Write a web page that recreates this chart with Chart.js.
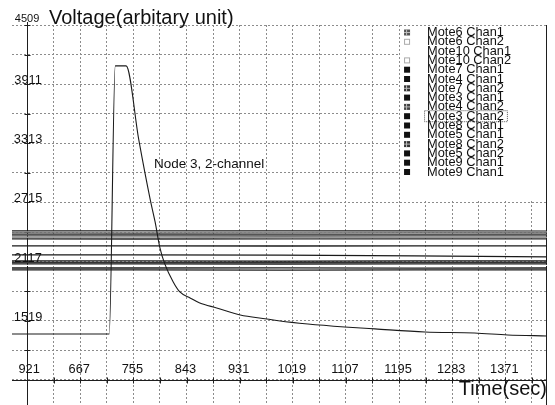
<!DOCTYPE html>
<html>
<head>
<meta charset="utf-8">
<script src="https://cdn.jsdelivr.net/npm/chart.js@4.4.1/dist/chart.umd.min.js"></script>
<style>
  html, body { margin: 0; padding: 0; background: #fff; }
  #wrap { width: 555px; height: 405px; position: relative; }
</style>
</head>
<body>
<div id="wrap"><canvas id="chart"></canvas></div>
<script>
// ── Axis grid & tick labels ──
const yGridValues  = [4509, 4210, 3911, 3612, 3313, 3014, 2715, 2416, 2117, 1818, 1519, 1220, 921];
const yLabelValues = [4509, 3911, 3313, 2715, 2117, 1519, 921];
const xGridValues  = [579, 623, 667, 711, 755, 799, 843, 887, 931, 975, 1019, 1063,
                      1107, 1151, 1195, 1239, 1283, 1327, 1371, 1415];
const xLabelValues = [667, 755, 843, 931, 1019, 1107, 1195, 1283, 1371];

// ── Node 3, 2-channel (Mote3 Chan2) ──
const curveTime = [554, 715, 725, 743, 764, 783, 791, 799, 807, 821, 832, 849, 865,
                   893, 932, 976, 998, 1044, 1105, 1155, 1238, 1320, 1375, 1440];
const curveVolt = [1386, 1386, 4096, 4096, 3347, 2741, 2518, 2256, 2094, 1912, 1811, 1750, 1699,
                   1649, 1578, 1538, 1517, 1487, 1457, 1437, 1406, 1396, 1376, 1366];

// ── Flat channels ──
const flatTime    = [554, 760, 1000, 1220, 1440];
const mote6Chan1  = [2392, 2390, 2393, 2391, 2392];
const mote6Chan2  = [2417, 2419, 2416, 2418, 2417];
const mote10Chan1 = [2080, 2080, 2080, 2080, 2080];
const mote10Chan2 = [2362, 2364, 2361, 2363, 2362];
const mote7Chan1  = [2427, 2427, 2428, 2427, 2426];
const mote4Chan1  = [2276, 2276, 2275, 2276, 2276];
const mote7Chan2  = [2407, 2406, 2408, 2407, 2407];
const mote3Chan1  = [2185, 2185, 2183, 2176, 2165];
const mote4Chan2  = [2377, 2378, 2376, 2377, 2378];
const mote8Chan1  = [2124, 2125, 2123, 2124, 2124];
const mote5Chan1  = [2347, 2346, 2348, 2347, 2347];
const mote8Chan2  = [2109, 2108, 2110, 2109, 2109];
const mote5Chan2  = [2094, 2095, 2093, 2094, 2094];
const mote9Chan1  = [2053, 2053, 2054, 2052, 2053];
const mote9Chan1b = [2033, 2034, 2032, 2033, 2033];

const FONT = '"Liberation Sans", Arial, sans-serif';

function pts(xs, ys) { return xs.map((x, i) => ({ x, y: ys[i] })); }

function flat(label, values, color, mark, order) {
    return {
        label, data: pts(flatTime, values),
        borderColor: color, borderWidth: 1.3,
        mark, order: order || 1,
    };
}

const datasets = [
    flat('Mote6 Chan1',  mote6Chan1,  '#555', 'hatch'),
    flat('Mote6 Chan2',  mote6Chan2,  '#999', 'light'),
    flat('Mote10 Chan1', mote10Chan1, '#fff', 'none', 10),
    flat('Mote10 Chan2', mote10Chan2, '#999', 'light'),
    flat('Mote7 Chan1',  mote7Chan1,  '#1a1a1a', 'solid'),
    flat('Mote4 Chan1',  mote4Chan1,  '#1a1a1a', 'solid'),
    flat('Mote7 Chan2',  mote7Chan2,  '#333', 'hatch'),
    flat('Mote3 Chan1',  mote3Chan1,  '#1a1a1a', 'solid'),
    flat('Mote4 Chan2',  mote4Chan2,  '#444', 'hatch'),
    {
        label: 'Mote3 Chan2', data: pts(curveTime, curveVolt),
        borderColor: '#1a1a1a', borderWidth: 1.1,
        cubicInterpolationMode: 'monotone', mark: 'solid', selected: true, order: 0,
    },
    flat('Mote8 Chan1',  mote8Chan1,  '#1a1a1a', 'solid'),
    flat('Mote5 Chan1',  mote5Chan1,  '#222', 'solid'),
    flat('Mote8 Chan2',  mote8Chan2,  '#333', 'hatch'),
    flat('Mote5 Chan2',  mote5Chan2,  '#1a1a1a', 'solid'),
    flat('Mote9 Chan1',  mote9Chan1,  '#1a1a1a', 'solid'),
    flat('Mote9 Chan1',  mote9Chan1b, '#1a1a1a', 'solid'),
];

// ─────────────────────────────────────────────
//  Axis lines, legend box and all text
// ─────────────────────────────────────────────
const paperPlugin = {
    id: 'paper',
    beforeDatasetsDraw(chart) {
        const { ctx, chartArea: a, scales: { x, y } } = chart;
        const x0 = Math.round(x.getPixelForValue(579)) + 0.5;
        const y0 = Math.round(y.getPixelForValue(921)) + 0.5;
        ctx.save();
        ctx.setLineDash([]);
        ctx.strokeStyle = '#1e1e1e';
        ctx.lineWidth = 1;
        ctx.beginPath();
        ctx.moveTo(x0, a.top - 3); ctx.lineTo(x0, a.bottom);
        ctx.moveTo(a.left, y0); ctx.lineTo(a.right, y0);
        ctx.moveTo(a.right - 0.5, a.top); ctx.lineTo(a.right - 0.5, a.bottom);
        // tick marks
        xGridValues.forEach(v => {
            const px = Math.round(x.getPixelForValue(v)) + 0.5;
            ctx.moveTo(px, y0 - 3); ctx.lineTo(px, y0 + 3);
        });
        yGridValues.forEach(v => {
            const py = Math.round(y.getPixelForValue(v)) + 0.5;
            ctx.moveTo(x0 - 3, py); ctx.lineTo(x0 + 3, py);
        });
        ctx.stroke();

        // legend background covers the grid
        const lx = Math.round(x.getPixelForValue(1195)) + 1;
        const ly = Math.round(y.getPixelForValue(2715)) - 1;
        ctx.fillStyle = '#fff';
        ctx.fillRect(lx, a.top + 1, a.right - 1 - lx, ly - a.top - 1);
        ctx.restore();
    },
    afterDraw(chart) {
        const { ctx, chartArea: a, scales: { x, y } } = chart;
        const x0 = x.getPixelForValue(579);
        const axisY = y.getPixelForValue(921);
        const labelBase = axisY - 7;
        ctx.save();
        ctx.fillStyle = '#111';
        ctx.textAlign = 'center';
        ctx.textBaseline = 'alphabetic';

        // y labels centred on the axis line
        yLabelValues.forEach(v => {
            const py = y.getPixelForValue(v);
            if (v === 4509) {
                ctx.font = `11px ${FONT}`;
                ctx.fillText(String(v), x0, py - 3);
            } else if (v === 921) {
                ctx.font = `12.8px ${FONT}`;
                ctx.fillText(String(v), x0 + 2, labelBase);
            } else {
                ctx.font = `12.8px ${FONT}`;
                ctx.fillText(String(v), x0 + 1, py);
            }
        });

        // x labels just above the axis line
        ctx.font = `12.8px ${FONT}`;
        xLabelValues.forEach(v => {
            ctx.fillText(String(v), x.getPixelForValue(v) - 1, labelBase);
        });

        // titles
        ctx.textAlign = 'left';
        ctx.font = `20px ${FONT}`;
        ctx.fillText('Voltage(arbitary unit)', 49, 24);
        ctx.textAlign = 'right';
        ctx.fillText('Time(sec)', a.right, 395);
        ctx.textAlign = 'left';
        ctx.font = `13.5px ${FONT}`;
        ctx.fillText('Node 3, 2-channel', x.getPixelForValue(789), y.getPixelForValue(3064));

        // legend
        const lx = x.getPixelForValue(1195);
        ctx.font = `12.8px ${FONT}`;
        ctx.textBaseline = 'middle';
        chart.data.datasets.forEach((ds, i) => {
            const cy = a.top + 7.5 + i * 9.3;
            const mx = lx + 5;
            if (ds.mark === 'solid') {
                ctx.fillStyle = '#111';
                ctx.fillRect(mx, cy - 3, 6, 6);
            } else if (ds.mark === 'hatch') {
                ctx.fillStyle = ds.borderColor;
                ctx.fillRect(mx, cy - 3, 6, 6);
                ctx.fillStyle = '#bbb';
                ctx.fillRect(mx + 2, cy - 3, 1, 6);
                ctx.fillRect(mx, cy - 0.5, 6, 1);
            } else if (ds.mark === 'light') {
                ctx.strokeStyle = '#aaa';
                ctx.lineWidth = 1;
                ctx.strokeRect(mx + 0.5, cy - 2.5, 5, 5);
            }
            ctx.fillStyle = '#111';
            ctx.fillText(ds.label, lx + 28, cy);
            if (ds.selected) {
                const w = ctx.measureText(ds.label).width;
                ctx.strokeStyle = '#555';
                ctx.lineWidth = 1;
                ctx.setLineDash([1, 1]);
                ctx.strokeRect(lx + 25.5, cy - 5.5, w + 6, 11);
                ctx.setLineDash([]);
            }
        });
        ctx.restore();
    },
};

new Chart(document.getElementById('chart'), {
    type: 'line',
    data: { datasets },
    options: {
        responsive: true,
        maintainAspectRatio: false,
        animation: false,
        layout: { padding: { left: 12, right: 8, top: 25, bottom: 0 } },
        plugins: { legend: { display: false }, tooltip: { enabled: false } },
        elements: { point: { radius: 0 }, line: { tension: 0 } },
        scales: {
            x: {
                type: 'linear', min: 554, max: 1440,
                afterBuildTicks: s => { s.ticks = xGridValues.map(v => ({ value: v })); },
                ticks: { display: false },
                grid: { color: '#8c8c8c', lineWidth: 1, drawTicks: false },
                border: { display: false, dash: [2, 2] },
            },
            y: {
                type: 'linear', min: 668, max: 4509,
                afterBuildTicks: s => { s.ticks = yGridValues.map(v => ({ value: v })); },
                ticks: { display: false },
                grid: { color: '#8c8c8c', lineWidth: 1, drawTicks: false },
                border: { display: false, dash: [2, 2] },
            },
        },
    },
    plugins: [paperPlugin],
});
</script>
</body>
</html>
